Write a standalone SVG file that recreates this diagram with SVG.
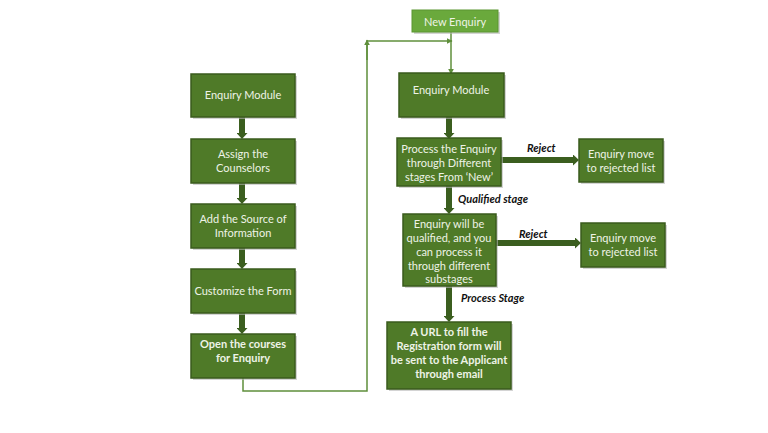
<svg xmlns="http://www.w3.org/2000/svg" width="768" height="433" viewBox="0 0 768 433">
<style>
.box{fill:#4f7a28;stroke:#3a5b1c;stroke-width:1.5}
.shadow{fill:#b8b8b8;opacity:0.6}
.t{font-family:Lato,"Open Sans","Liberation Sans",sans-serif;font-size:11px;fill:#eef3e6;text-anchor:middle}
.b{font-weight:bold}
.lbl{font-family:Lato,"Open Sans","Liberation Sans",sans-serif;font-size:11px;font-weight:bold;font-style:italic;fill:#111}
.thick{stroke:#3b5e1f;stroke-width:6;fill:none}
.thin{stroke:#5f8f3b;stroke-width:1.5;fill:none}
</style>
<defs>
<marker id="hd" viewBox="0 0 10 10" refX="0" refY="5" markerWidth="6" markerHeight="11" preserveAspectRatio="none" markerUnits="userSpaceOnUse" orient="auto"><path d="M0,0 L10,5 L0,10 z" fill="#3b5e1f"/></marker>
<marker id="hs" viewBox="0 0 10 10" refX="9" refY="5" markerWidth="6" markerHeight="6" markerUnits="userSpaceOnUse" orient="auto"><path d="M0,0 L10,5 L0,10 z" fill="#5f8f3b"/></marker>
</defs>
<rect width="768" height="433" fill="#ffffff"/>
<g id="connectors">
<line class="thick" x1="242" y1="117" x2="242" y2="133" marker-end="url(#hd)"/>
<line class="thick" x1="242" y1="183" x2="242" y2="198" marker-end="url(#hd)"/>
<line class="thick" x1="242" y1="248" x2="242" y2="263" marker-end="url(#hd)"/>
<line class="thick" x1="242" y1="313" x2="242" y2="328" marker-end="url(#hd)"/>
<polyline class="thin" points="243,378 243,391 367,391 367,41"/>
<line class="thin" x1="367" y1="60" x2="367" y2="40" marker-end="url(#hs)"/>
<line class="thin" x1="367" y1="41" x2="452" y2="41" marker-end="url(#hs)"/>
<line class="thin" x1="451" y1="32" x2="451" y2="74" marker-end="url(#hs)"/>
<line class="thick" x1="449" y1="117" x2="449" y2="133" marker-end="url(#hd)"/>
<line class="thick" x1="501" y1="160" x2="573" y2="160" stroke-width="5" marker-end="url(#hd)"/>
<line class="thick" x1="449" y1="186" x2="449" y2="208" marker-end="url(#hd)"/>
<line class="thick" x1="496" y1="243" x2="575" y2="243" stroke-width="5" marker-end="url(#hd)"/>
<line class="thick" x1="449" y1="286" x2="449" y2="316" marker-end="url(#hd)"/>
<text class="lbl" x="527" y="152">Reject</text>
<text class="lbl" x="458" y="203">Qualified stage</text>
<text class="lbl" x="519" y="238">Reject</text>
<text class="lbl" x="461" y="302">Process Stage</text>
</g>
<g id="n1"><rect class="shadow" x="193" y="76" width="104" height="43"/><rect class="box" x="191" y="74" width="104" height="43"/><text class="t" x="243" y="99">Enquiry Module</text></g>
<g id="n2"><rect class="shadow" x="193" y="141" width="104" height="44"/><rect class="box" x="191" y="139" width="104" height="44"/><text class="t" x="243" y="158">Assign the</text><text class="t" x="243" y="172">Counselors</text></g>
<g id="n3"><rect class="shadow" x="193" y="206" width="104" height="44"/><rect class="box" x="191" y="204" width="104" height="44"/><text class="t" x="243" y="223">Add the Source of</text><text class="t" x="243" y="237">Information</text></g>
<g id="n4"><rect class="shadow" x="193" y="271" width="104" height="44"/><rect class="box" x="191" y="269" width="104" height="44"/><text class="t" x="243" y="295">Customize the Form</text></g>
<g id="n5"><rect class="shadow" x="193" y="336" width="104" height="44"/><rect class="box" x="191" y="334" width="104" height="44"/><text class="t b" x="243" y="348">Open the courses</text><text class="t b" x="243" y="362">for Enquiry</text></g>
<g id="n6"><rect class="shadow" x="414" y="12" width="86" height="22"/><rect x="412" y="10" width="86" height="22" fill="#6aa93c" stroke="#5a9530" stroke-width="1"/><text class="t" x="455" y="26" font-size="14">New Enquiry</text></g>
<g id="n7"><rect class="shadow" x="401" y="75" width="105" height="44"/><rect class="box" x="399" y="73" width="105" height="44"/><text class="t" x="451" y="94">Enquiry Module</text></g>
<g id="n8"><rect class="shadow" x="399" y="140" width="104" height="48"/><rect class="box" x="397" y="138" width="104" height="48"/><text class="t" x="449" y="153">Process the Enquiry</text><text class="t" x="449" y="167">through Different</text><text class="t" x="449" y="181">stages From ‘New’</text></g>
<g id="n9"><rect class="shadow" x="581" y="141" width="84" height="43"/><rect class="box" x="579" y="139" width="84" height="43"/><text class="t" x="621" y="158">Enquiry move</text><text class="t" x="621" y="172">to rejected  list</text></g>
<g id="n10"><rect class="shadow" x="405" y="216" width="93" height="72"/><rect class="box" x="403" y="214" width="93" height="72"/><text class="t" x="449" y="228">Enquiry will be</text><text class="t" x="449" y="242">qualified, and you</text><text class="t" x="449" y="256">can process it</text><text class="t" x="449" y="270">through different</text><text class="t" x="449" y="283">substages</text></g>
<g id="n11"><rect class="shadow" x="583" y="225" width="84" height="44"/><rect class="box" x="581" y="223" width="84" height="44"/><text class="t" x="623" y="242">Enquiry move</text><text class="t" x="623" y="256">to rejected  list</text></g>
<g id="n12"><rect class="shadow" x="389" y="324" width="124" height="67"/><rect class="box" x="387" y="322" width="124" height="67"/><text class="t b" x="449" y="336">A URL to fill the</text><text class="t b" x="449" y="350">Registration form will</text><text class="t b" x="449" y="364">be sent to the Applicant</text><text class="t b" x="449" y="378">through email</text></g>
</svg>
